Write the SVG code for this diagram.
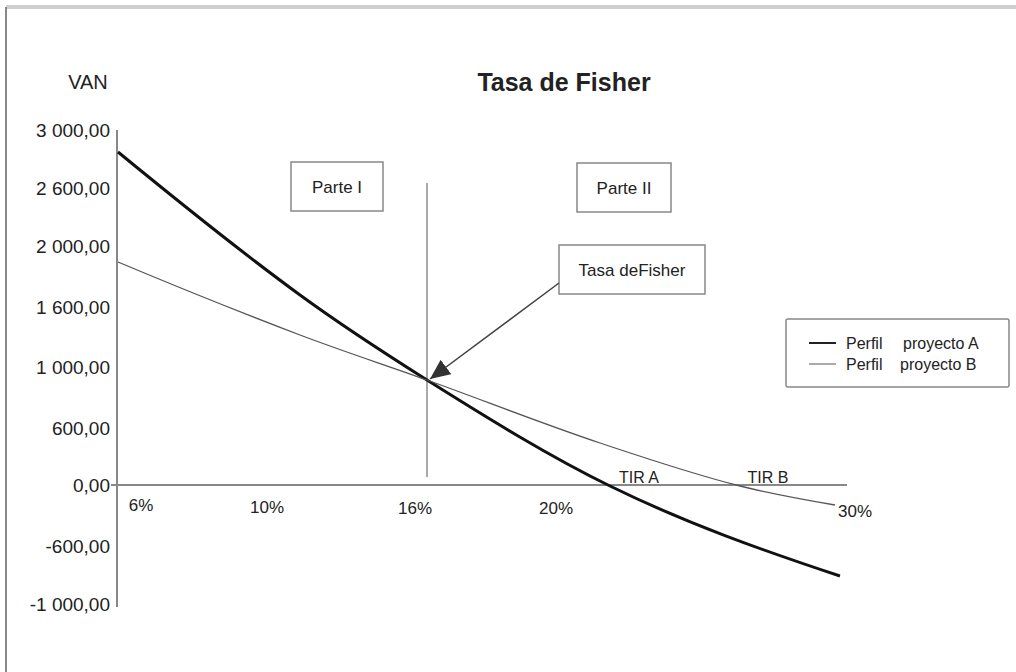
<svg xmlns="http://www.w3.org/2000/svg" width="1016" height="672" viewBox="0 0 1016 672">
  <style>
    text { font-family: "Liberation Sans", Arial, sans-serif; fill: #222; }
    .ylab { font-size: 19px; text-anchor: end; dominant-baseline: central; }
    .xlab { font-size: 17px; text-anchor: middle; dominant-baseline: central; }
    .box { fill: #fff; stroke: #888; stroke-width: 1.5; }
    .boxtxt { font-size: 17px; text-anchor: middle; dominant-baseline: central; }
    .axis { stroke: #888; stroke-width: 2; fill: none; }
    .curveA { stroke: #111; stroke-width: 3; fill: none; }
    .curveB { stroke: #555; stroke-width: 1.3; fill: none; }
  </style>
  <defs>
    <marker id="arrowhead" markerUnits="userSpaceOnUse" markerWidth="22" markerHeight="20" refX="20" refY="9" orient="auto">
      <path d="M0,0 L20,9 L0,18 z" fill="#333"/>
    </marker>
  </defs>
  <rect width="1016" height="672" fill="#fff"/>

  <g id="frame">
    <line x1="6" y1="7" x2="1016" y2="7" stroke="#cfcfcf" stroke-width="4"/>
    <line x1="6" y1="7" x2="6" y2="672" stroke="#888" stroke-width="2"/>
  </g>

  <g id="title">
    <text x="564" y="82" font-size="25" font-weight="bold" text-anchor="middle" dominant-baseline="central">Tasa de Fisher</text>
  </g>

  <g id="axes">
    <text x="88" y="82" font-size="20" text-anchor="middle" dominant-baseline="central">VAN</text>
    <line class="axis" x1="117" y1="130" x2="117" y2="607"/>
    <line class="axis" x1="111" y1="485" x2="847" y2="485"/>
    <text class="ylab" x="110" y="130">3 000,00</text>
    <text class="ylab" x="110" y="188">2 600,00</text>
    <text class="ylab" x="110" y="246">2 000,00</text>
    <text class="ylab" x="110" y="307">1 600,00</text>
    <text class="ylab" x="110" y="367">1 000,00</text>
    <text class="ylab" x="110" y="428">600,00</text>
    <text class="ylab" x="110" y="485">0,00</text>
    <text class="ylab" x="110" y="546">-600,00</text>
    <text class="ylab" x="110" y="604">-1 000,00</text>
    <text class="xlab" x="141" y="505">6%</text>
    <text class="xlab" x="267" y="507">10%</text>
    <text class="xlab" x="415" y="508">16%</text>
    <text class="xlab" x="556" y="508">20%</text>
    <text class="xlab" x="855" y="511">30%</text>
    <text x="639" y="477" font-size="16" text-anchor="middle" dominant-baseline="central">TIR A</text>
    <text x="768" y="477" font-size="16" text-anchor="middle" dominant-baseline="central">TIR B</text>
  </g>

  <g id="divider">
    <line x1="427" y1="183" x2="427" y2="477" stroke="#aaa" stroke-width="2"/>
  </g>

  <g id="curves">
    <path id="perfil-a" class="curveA" d="M118,152 C178.7,201.8 239.3,250.7 300,295 C342.3,325.9 384.7,353.3 427,380 C488,418.4 549,456.1 610,486 C686.7,523.6 763.3,550.7 840,576"/>
    <path id="perfil-b" class="curveB" d="M118,262 C178.7,287.5 239.3,311.9 300,335 C342.3,351.1 384.7,364.8 427,380 C484.7,400.8 542.3,423.7 600,443 C646.7,458.6 693.3,474.3 740,486 C771.7,493.9 803.3,499.6 835,505"/>
  </g>

  <g id="parte-1">
    <rect class="box" x="291" y="162" width="92" height="49"/>
    <text class="boxtxt" x="337" y="187">Parte I</text>
  </g>
  <g id="parte-2">
    <rect class="box" x="577" y="163" width="94" height="49"/>
    <text class="boxtxt" x="624" y="188">Parte II</text>
  </g>
  <g id="tasa-fisher">
    <rect class="box" x="559" y="245" width="146" height="49"/>
    <text class="boxtxt" x="632" y="270">Tasa deFisher</text>
  </g>

  <g id="legend">
    <rect class="box" x="786" y="319" width="223" height="68" rx="2"/>
    <line x1="809" y1="343" x2="836" y2="343" stroke="#222" stroke-width="2"/>
    <line x1="809" y1="364" x2="836" y2="364" stroke="#aaa" stroke-width="2"/>
    <text x="846" y="343" font-size="16" dominant-baseline="central">Perfil</text>
    <text x="903" y="343" font-size="16" dominant-baseline="central">proyecto A</text>
    <text x="846" y="364" font-size="16" dominant-baseline="central">Perfil</text>
    <text x="900" y="364" font-size="16" dominant-baseline="central">proyecto B</text>
  </g>

  <g id="connectors">
    <line x1="559" y1="283" x2="430" y2="379" stroke="#444" stroke-width="1.5" marker-end="url(#arrowhead)"/>
  </g>
</svg>
